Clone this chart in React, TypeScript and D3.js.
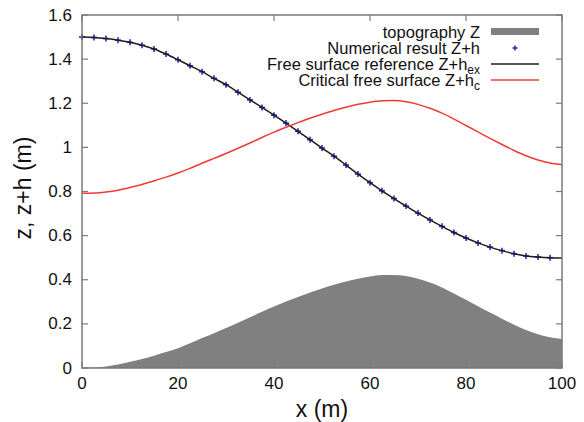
import React from "react";
import * as d3 from "d3";

const xs = [0,2.5,5,7.5,10,12.5,15,17.5,20,22.5,25,27.5,30,32.5,35,37.5,40,42.5,45,47.5,50,52.5,55,57.5,60,62.5,65,67.5,70,72.5,75,77.5,80,82.5,85,87.5,90,92.5,95,97.5,100];
const topography = [0.000,0.002,0.007,0.016,0.028,0.041,0.056,0.072,0.090,0.112,0.136,0.158,0.181,0.205,0.230,0.255,0.279,0.301,0.322,0.342,0.360,0.377,0.392,0.405,0.415,0.421,0.422,0.417,0.405,0.387,0.365,0.338,0.309,0.280,0.251,0.223,0.196,0.172,0.153,0.139,0.132];
const freeSurfaceRef = [1.500,1.498,1.493,1.486,1.476,1.463,1.446,1.423,1.397,1.370,1.343,1.313,1.284,1.250,1.215,1.181,1.146,1.110,1.073,1.035,0.997,0.960,0.920,0.879,0.840,0.803,0.768,0.734,0.702,0.671,0.642,0.614,0.589,0.567,0.548,0.532,0.518,0.508,0.503,0.500,0.499];
const criticalSurface = [0.792,0.793,0.798,0.806,0.818,0.832,0.848,0.865,0.884,0.905,0.928,0.950,0.972,0.996,1.020,1.045,1.069,1.091,1.112,1.132,1.150,1.167,1.182,1.195,1.205,1.211,1.212,1.207,1.195,1.177,1.155,1.128,1.099,1.070,1.041,1.013,0.986,0.962,0.943,0.929,0.922];
const numX = [0,2.5,5,7.5,10,12.5,15,17.5,20,22.5,25,27.5,30,32.5,35,37.5,40,42.5,45,47.5,50,52.5,55,57.5,60,62.5,65,67.5,70,72.5,75,77.5,80,82.5,85,87.5,90,92.5,95,97.5];
const numY = [1.500,1.498,1.493,1.486,1.476,1.463,1.446,1.423,1.397,1.370,1.343,1.313,1.284,1.250,1.215,1.181,1.146,1.110,1.073,1.035,0.997,0.960,0.920,0.879,0.840,0.803,0.768,0.734,0.702,0.671,0.642,0.614,0.589,0.567,0.548,0.532,0.518,0.508,0.503,0.500];
const xTicks = [0,20,40,60,80,100];
const yTicks = [0,0.2,0.4,0.6,0.8,1,1.2,1.4,1.6];

const W = 584, H = 422;
const L = 82, R = 562, T = 15, B = 368;
const FONT = "'Liberation Sans', Arial, Helvetica, sans-serif";

export default function App() {
  const x = d3.scaleLinear().domain([0, 100]).range([L, R]);
  const y = d3.scaleLinear().domain([0, 1.6]).range([B, T]);

  const area = d3.area<number>()
    .x((_, i) => x(xs[i]))
    .y0(() => y(0))
    .y1((d) => y(d))
    .curve(d3.curveMonotoneX);
  const line = d3.line<number>()
    .x((_, i) => x(xs[i]))
    .y((d) => y(d))
    .curve(d3.curveMonotoneX);

  const frame = "#7a7a7a";
  const tickLen = 6;
  const legendRows = [31.5, 48, 64, 80];
  const textX = 480;
  const sx0 = 491, sx1 = 539;
  const lfs = 16.5;

  return (
    <svg width={W} height={H} style={{ position: "absolute", left: 0, top: 0, background: "#fff" }} fontFamily={FONT}>
      <path d={area(topography) || ""} fill="#808080" />
      {numX.map((v, i) => {
        const cx = x(v), cy = y(numY[i]);
        return (
          <g key={i} stroke="#2a2ab0" strokeWidth={1.6}>
            <line x1={cx - 3} x2={cx + 3} y1={cy} y2={cy} />
            <line x1={cx} x2={cx} y1={cy - 3} y2={cy + 3} />
          </g>
        );
      })}
      <path d={line(freeSurfaceRef) || ""} fill="none" stroke="#1c1c1c" strokeWidth={1.5} />
      <path d={line(criticalSurface) || ""} fill="none" stroke="#f03a3a" strokeWidth={1.5} />

      {/* frame */}
      <rect x={L} y={T} width={R - L} height={B - T} fill="none" stroke={frame} strokeWidth={1.5} />
      {xTicks.map((t) => (
        <g key={"x" + t}>
          <line x1={x(t)} x2={x(t)} y1={B} y2={B - tickLen} stroke={frame} strokeWidth={1.2} />
          <line x1={x(t)} x2={x(t)} y1={T} y2={T + tickLen} stroke={frame} strokeWidth={1.2} />
          <text x={x(t)} y={383} textAnchor="middle" dominantBaseline="central" fontSize={17} fill="#111">{t}</text>
        </g>
      ))}
      {yTicks.map((t) => (
        <g key={"y" + t}>
          <line x1={L} x2={L + tickLen} y1={y(t)} y2={y(t)} stroke={frame} strokeWidth={1.2} />
          <line x1={R} x2={R - tickLen} y1={y(t)} y2={y(t)} stroke={frame} strokeWidth={1.2} />
          <text x={72} y={y(t)} textAnchor="end" dominantBaseline="central" fontSize={17} fill="#111">{String(t)}</text>
        </g>
      ))}
      <text x={(L + R) / 2} y={409} textAnchor="middle" dominantBaseline="central" fontSize={23} fill="#111">x (m)</text>
      <text transform={`translate(23,${188}) rotate(-90)`} textAnchor="middle" dominantBaseline="central" fontSize={23} fill="#111">z, z+h (m)</text>

      {/* legend */}
      <text x={textX} y={legendRows[0]} textAnchor="end" dominantBaseline="central" fontSize={lfs} fill="#111">topography Z</text>
      <rect x={sx0} y={legendRows[0] - 3.5} width={sx1 - sx0} height={7} fill="#808080" />
      <text x={textX} y={legendRows[1]} textAnchor="end" dominantBaseline="central" fontSize={lfs} fill="#111">Numerical result Z+h</text>
      <g stroke="#2a2ab0" strokeWidth={1.6}>
        <line x1={515 - 2.5} x2={515 + 2.5} y1={legendRows[1]} y2={legendRows[1]} />
        <line x1={515} x2={515} y1={legendRows[1] - 2.5} y2={legendRows[1] + 2.5} />
      </g>
      <text x={textX} y={legendRows[2] + 6} textAnchor="end" fontSize={lfs} fill="#111">
        Free surface reference Z+h<tspan fontSize={12} dy={3.5}>ex</tspan>
      </text>
      <line x1={sx0} x2={sx1} y1={legendRows[2]} y2={legendRows[2]} stroke="#1c1c1c" strokeWidth={1.5} />
      <text x={textX} y={legendRows[3] + 6} textAnchor="end" fontSize={lfs} fill="#111">
        Critical free surface Z+h<tspan fontSize={12} dy={3.5}>c</tspan>
      </text>
      <line x1={sx0} x2={sx1} y1={legendRows[3]} y2={legendRows[3]} stroke="#f03a3a" strokeWidth={1.5} />
    </svg>
  );
}
